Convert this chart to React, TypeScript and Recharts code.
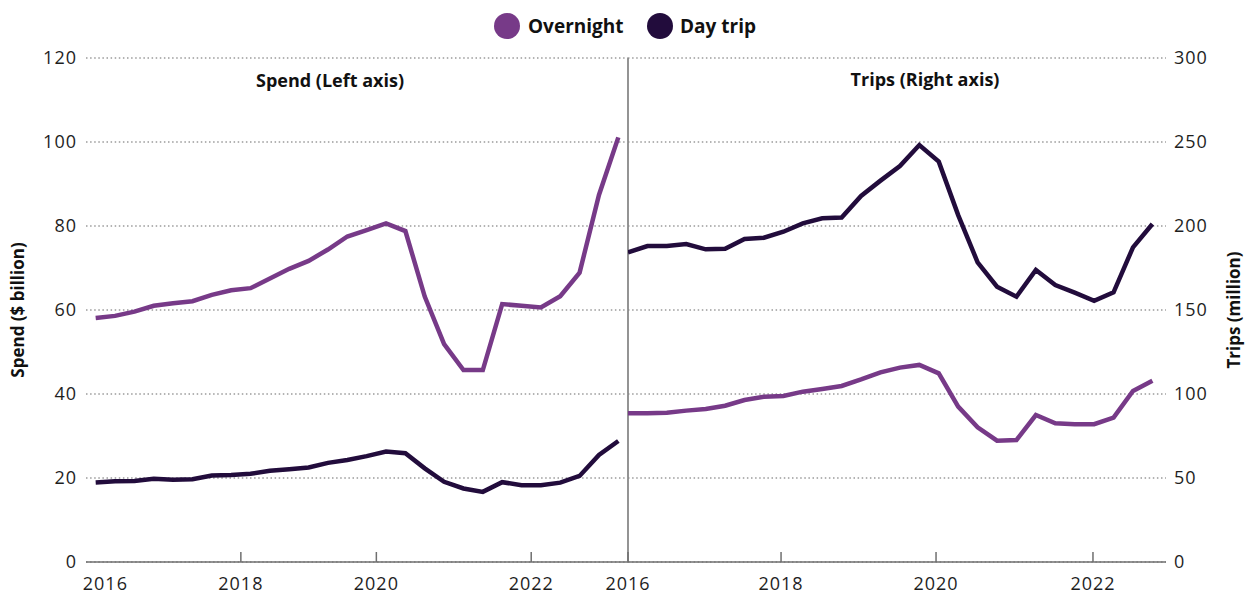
import React from 'react';
import { LineChart, Line, XAxis, YAxis, CartesianGrid, ReferenceLine } from 'recharts';

const quarters = [
  '2016 Q1', '2016 Q2', '2016 Q3', '2016 Q4',
  '2017 Q1', '2017 Q2', '2017 Q3', '2017 Q4',
  '2018 Q1', '2018 Q2', '2018 Q3', '2018 Q4',
  '2019 Q1', '2019 Q2', '2019 Q3', '2019 Q4',
  '2020 Q1', '2020 Q2', '2020 Q3', '2020 Q4',
  '2021 Q1', '2021 Q2', '2021 Q3', '2021 Q4',
  '2022 Q1', '2022 Q2', '2022 Q3', '2022 Q4',
];

const spendOvernight = [
  58.1, 58.6, 59.6, 61.0, 61.6, 62.1, 63.6, 64.7,
  65.2, 67.5, 69.8, 71.7, 74.4, 77.5, 79.0, 80.6,
  78.8, 63.2, 51.9, 45.7, 45.7, 61.4, 61.0, 60.6,
  63.3, 68.9, 87.4, 101.1,
];
const spendDayTrip = [
  18.9, 19.2, 19.3, 19.8, 19.6, 19.7, 20.6, 20.7,
  21.0, 21.7, 22.1, 22.5, 23.6, 24.3, 25.2, 26.3,
  25.9, 22.3, 19.1, 17.5, 16.7, 19.0, 18.3, 18.3,
  18.9, 20.5, 25.5, 28.8,
];
const tripsOvernight = [
  88.5, 88.5, 88.9, 90.1, 91.1, 93.0, 96.4, 98.4,
  98.8, 101.4, 103.0, 104.8, 108.7, 112.9, 115.7, 117.3,
  112.3, 92.5, 80.2, 72.2, 72.6, 87.5, 82.6, 82.0,
  82.0, 85.9, 101.8, 107.9,
];
const tripsDayTrip = [
  184.3, 188.1, 188.1, 189.3, 186.1, 186.5, 192.3, 193.0,
  196.6, 201.6, 204.6, 205.0, 217.9, 227.0, 235.7, 248.2,
  238.3, 206.5, 178.4, 163.9, 157.9, 173.8, 164.9, 160.3,
  155.5, 160.5, 187.3, 201.2,
];

const leftYTicks = [0, 20, 40, 60, 80, 100, 120];
const rightYTicks = [0, 50, 100, 150, 200, 250, 300];
const yearLabels = ['2016', '2018', '2020', '2022'];
const leftYearTickIdx = [0.5, 7.5, 14.5, 22.5];
const rightYearTickIdx = [0, 7.88, 15.86, 23.94];

const seriesNames = ['Overnight', 'Day trip'];
const OVERNIGHT = '#773a88';
const DAYTRIP = '#220c3c';
const FONT = "'Open Sans', sans-serif";

const spendData = quarters.map((q, i) => ({ idx: i, q, overnight: spendOvernight[i], dayTrip: spendDayTrip[i] }));
const tripsData = quarters.map((q, i) => ({ idx: i, q, overnight: tripsOvernight[i], dayTrip: tripsDayTrip[i] }));

const makeYearTick = (positions: number[], skipFirstLine: boolean) => (props: any) => {
  const { x, y, payload } = props;
  const i = positions.indexOf(payload.value);
  const label = yearLabels[i] ?? '';
  return (
    <g>
      {!(skipFirstLine && i === 0) && (
        <line x1={x} x2={x} y1={y} y2={y - 10} stroke="#6f6f6f" strokeWidth={1.5} />
      )}
      <text x={x} y={y + 28} textAnchor="middle" fill="#1e1e1e" fontSize={18} fontFamily={FONT} letterSpacing={1}>
        {label}
      </text>
    </g>
  );
};

const yTickStyle = { fill: '#1e1e1e', fontSize: 18, fontFamily: FONT, letterSpacing: 1 };

export default function App() {
  return (
    <div style={{ position: 'absolute', left: 0, top: 0, width: 1247, height: 594, background: '#fff', fontFamily: FONT }}>
      <div style={{ position: 'absolute', left: 598, top: 0 }}>
        <LineChart width={649} height={594} data={tripsData} margin={{ top: 58, right: 0, bottom: 0, left: 30 }}>
          <CartesianGrid vertical={false} stroke="#9a9a9a" strokeWidth={1.5} strokeDasharray="1.5 2.6" />
          <XAxis
            type="number"
            dataKey="idx"
            domain={[0, 27.7]}
            ticks={rightYearTickIdx}
            interval={0}
            height={32}
            tickSize={0}
            tickMargin={0}
            tickLine={false}
            axisLine={{ stroke: '#6f6f6f', strokeWidth: 1.5 }}
            tick={makeYearTick(rightYearTickIdx, false)}
            allowDataOverflow
          />
          <YAxis
            orientation="right"
            width={81}
            domain={[0, 300]}
            ticks={rightYTicks}
            interval={0}
            axisLine={false}
            tickLine={false}
            tickSize={0}
            tickMargin={8}
            tick={yTickStyle}
          />
          <ReferenceLine x={0} stroke="#888" strokeWidth={1.8} />
          <Line type="linear" dataKey="overnight" name={seriesNames[0]} stroke={OVERNIGHT} strokeWidth={4.5} dot={false} isAnimationActive={false} />
          <Line type="linear" dataKey="dayTrip" name={seriesNames[1]} stroke={DAYTRIP} strokeWidth={4.5} dot={false} isAnimationActive={false} />
        </LineChart>
      </div>
      <div style={{ position: 'absolute', left: 0, top: 0 }}>
        <LineChart width={628} height={594} data={spendData} margin={{ top: 58, right: 0, bottom: 0, left: 0 }}>
          <CartesianGrid vertical={false} stroke="#9a9a9a" strokeWidth={1.5} strokeDasharray="1.5 2.6" />
          <XAxis
            type="number"
            dataKey="idx"
            domain={[-0.5, 27.5]}
            ticks={leftYearTickIdx}
            interval={0}
            height={32}
            tickSize={0}
            tickMargin={0}
            tickLine={false}
            axisLine={{ stroke: '#6f6f6f', strokeWidth: 1.5 }}
            tick={makeYearTick(leftYearTickIdx, true)}
            allowDataOverflow
          />
          <YAxis
            orientation="left"
            width={86}
            domain={[0, 120]}
            ticks={leftYTicks}
            interval={0}
            axisLine={false}
            tickLine={false}
            tickSize={0}
            tickMargin={9}
            tick={yTickStyle}
          />
          <Line type="linear" dataKey="overnight" name={seriesNames[0]} stroke={OVERNIGHT} strokeWidth={4.5} dot={false} isAnimationActive={false} />
          <Line type="linear" dataKey="dayTrip" name={seriesNames[1]} stroke={DAYTRIP} strokeWidth={4.5} dot={false} isAnimationActive={false} />
        </LineChart>
      </div>
      <svg width={1247} height={594} style={{ position: 'absolute', left: 0, top: 0, pointerEvents: 'none' }}>
        <circle cx={507} cy={26} r={13} fill={OVERNIGHT} />
        <text x={528} y={33} fontSize={19} fontWeight={700} fill="#111" fontFamily={FONT}>{seriesNames[0]}</text>
        <circle cx={660} cy={26} r={13} fill={DAYTRIP} />
        <text x={680} y={33} fontSize={19} fontWeight={700} fill="#111" fontFamily={FONT}>{seriesNames[1]}</text>
        <text x={330} y={87} textAnchor="middle" fontSize={18} fontWeight={700} fill="#111" fontFamily={FONT}>Spend (Left axis)</text>
        <text x={925} y={86} textAnchor="middle" fontSize={18} fontWeight={700} fill="#111" fontFamily={FONT}>Trips (Right axis)</text>
        <text transform="translate(24,310) rotate(-90)" textAnchor="middle" fontSize={17} fontWeight={700} fill="#111" fontFamily={FONT}>Spend ($ billion)</text>
        <text transform="translate(1240,310) rotate(-90)" textAnchor="middle" fontSize={17} fontWeight={700} fill="#111" fontFamily={FONT}>Trips (million)</text>
      </svg>
    </div>
  );
}
